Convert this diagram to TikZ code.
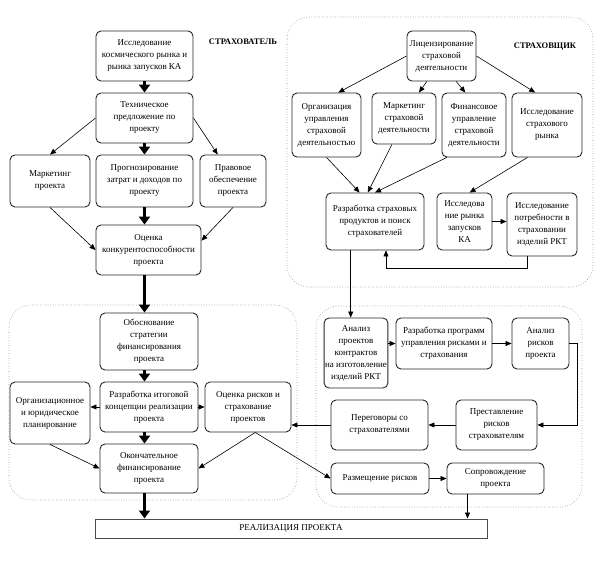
\documentclass[tikz,border=0pt]{standalone}
\usepackage{fontspec}
\setmainfont{Liberation Serif}
\usetikzlibrary{arrows.meta, positioning}

\tikzset{
  box/.style={draw=black!85, line width=0.9pt, rounded corners=5pt, align=center,
    inner sep=1pt, font=\fontsize{9}{12}\selectfont},
  group/.style={draw=black!45, dotted, line width=0.6pt, rounded corners=22pt},
  arr/.style={-{Triangle[length=6pt,width=5pt]}, line width=0.6pt},
  bigarr/.style={-{Triangle[length=8pt,width=11pt]}, line width=2.2pt},
  title/.style={font=\bfseries\fontsize{8.5}{10}\selectfont}
}

\begin{document}
\begin{tikzpicture}[x=1pt, y=-1pt]
\useasboundingbox (0,0) rectangle (603,564);

% groups
\draw[group] (9,305) rectangle (297,500);
\draw[group] (287,17) rectangle (593,287);
\draw[group] (316,306) rectangle (582,507);

% insured
\node[title] (lblinsured) at (243,42) {СТРАХОВАТЕЛЬ};
\node[box, minimum width=97, minimum height=50] (market) at (144.5,56) {Исследование\\космического рынка и\\рынка запусков КА};
\node[box, minimum width=97, minimum height=50] (techoffer) at (144.5,118) {Техническое\\предложение по\\проекту};
\node[box, minimum width=80, minimum height=52] (marketing) at (50,181) {Маркетинг\\проекта};
\node[box, minimum width=97, minimum height=52] (forecast) at (144.5,181) {Прогнозирование\\затрат и доходов по\\проекту};
\node[box, minimum width=66, minimum height=52] (legal) at (233,181) {Правовое\\обеспечение\\проекта};
\node[box, minimum width=105, minimum height=50] (compet) at (148.5,250) {Оценка\\конкурентоспособности\\проекта};

% financing
\node[box, minimum width=98, minimum height=57] (strategy) at (149,341.5) {Обоснование\\стратегии\\финансирования\\проекта};
\node[box, minimum width=80, minimum height=62] (orgplan) at (50,413) {Организационное\\и юридическое\\планирование};
\node[box, minimum width=98, minimum height=50] (concept) at (149,407) {Разработка итоговой\\концепции реализации\\проекта};
\node[box, minimum width=86, minimum height=50] (riskeval) at (248,407) {Оценка рисков и\\страхование\\проектов};
\node[box, minimum width=98, minimum height=49] (finalfin) at (149,468.5) {Окончательное\\финансирование\\проекта};
\node[box, rounded corners=0pt, draw=black!70, line width=1pt, minimum width=392, minimum height=19] (realize) at (291,528.5) {РЕАЛИЗАЦИЯ ПРОЕКТА};

% insurer
\node[title] (lblinsurer) at (545,47) {СТРАХОВЩИК};
\node[box, minimum width=69, minimum height=50] (license) at (441.5,56) {Лицензирование\\страховой\\деятельности};
\node[box, minimum width=69, minimum height=64] (insorg) at (326.5,125) {Организация\\управления\\страховой\\деятельностью};
\node[box, minimum width=64, minimum height=51] (insmark) at (404,118.5) {Маркетинг\\страховой\\деятельности};
\node[box, minimum width=64, minimum height=64] (insfin) at (474,125) {Финансовое\\управление\\страховой\\деятельности};
\node[box, minimum width=70, minimum height=64] (insmarket) at (547,125) {Исследование\\страхового\\рынка};
\node[box, minimum width=98, minimum height=57] (products) at (375,221.5) {Разработка страховых\\продуктов и поиск\\страхователей};
\node[box, minimum width=55, minimum height=57] (launches) at (464.5,221.5) {Исследова\\ние рынка\\запусков\\КА};
\node[box, minimum width=70, minimum height=63] (needs) at (542,224.5) {Исследование\\потребности в\\страховании\\изделий РКТ};

% risk management
\node[box, minimum width=60, minimum height=70] (contracts) at (356,353) {Анализ\\проектов\\контрактов\\на изготовление\\изделий РКТ};
\node[box, minimum width=96, minimum height=51] (program) at (444,343.5) {Разработка программ\\управления рисками и\\страхования};
\node[box, minimum width=57, minimum height=51] (riskan) at (540.5,343.5) {Анализ\\рисков\\проекта};
\node[box, minimum width=81, minimum height=50] (present) at (496.5,425) {Преставление\\рисков\\страхователям};
\node[box, minimum width=97, minimum height=50] (talks) at (379.5,425) {Переговоры со\\страхователями};
\node[box, minimum width=98, minimum height=31] (placing) at (380,478.5) {Размещение рисков};
\node[box, minimum width=97, minimum height=31] (support) at (495.5,478.5) {Сопровождение\\проекта};

% main spine
\draw[bigarr] (market) -- (techoffer);
\draw[bigarr] (techoffer) -- (forecast);
\draw[bigarr] (forecast) -- (forecast.south |- compet.north);
\draw[bigarr] (compet.south -| techoffer) -- (strategy.north -| techoffer);
\draw[bigarr] (strategy.south -| techoffer) -- (concept.north -| techoffer);
\draw[bigarr] (concept.south -| techoffer) -- (finalfin.north -| techoffer);
\draw[bigarr] (finalfin.south -| techoffer) -- (realize.north -| techoffer);

\draw[arr] (techoffer.west) -- (marketing.north);
\draw[arr] (techoffer.east) -- (legal.120);
\draw[arr] (marketing.south) -- (compet.west);
\draw[arr] (legal.south) -- (compet.10);

\draw[arr] (concept.west) -- (concept.west -| orgplan.east);
\draw[arr] (concept.east) -- (concept.east -| riskeval.west);
\draw[arr] (orgplan.south) -- (finalfin.west);
\draw[arr] (riskeval.-74) -- (finalfin.east);
\draw[arr] (riskeval.-74) -- (placing.west);

\draw[arr] (license.west) -- (insorg.70);
\draw[arr] (license.240) -- (insmark.60);
\draw[arr] (license.300) -- (insfin.105);
\draw[arr] (license.east) -- (insmarket.110);
\draw[arr] (insorg.south) -- (products.118);
\draw[arr] (insmark.245) -- (products.104);
\draw[arr] (insfin.230) -- (products.north);
\draw[arr] (insmarket.239) -- (launches.80);
\draw[arr] (launches.east) -- (launches.east -| needs.west);
\draw[arr] ([xshift=-15pt]needs.south) -- ++(0,12) -| ([xshift=11pt]products.south);
\draw[arr] (products.230) -- (products.230 |- contracts.north);

\draw[arr] (contracts.east |- program.west) -- (program.west);
\draw[arr] (program.east) -- (riskan.west);
\draw[arr] (riskan.east) -- ++(8,0) |- (present.east);
\draw[arr] (present.west) -- (talks.east);
\draw[arr] (talks.west) -- (talks.west -| riskeval.east);
\draw[arr] (placing.east) -- (support.west);
\draw[arr] ([xshift=-28pt]support.south) -- ([xshift=-28pt]support.south |- realize.north);
\end{tikzpicture}
\end{document}
